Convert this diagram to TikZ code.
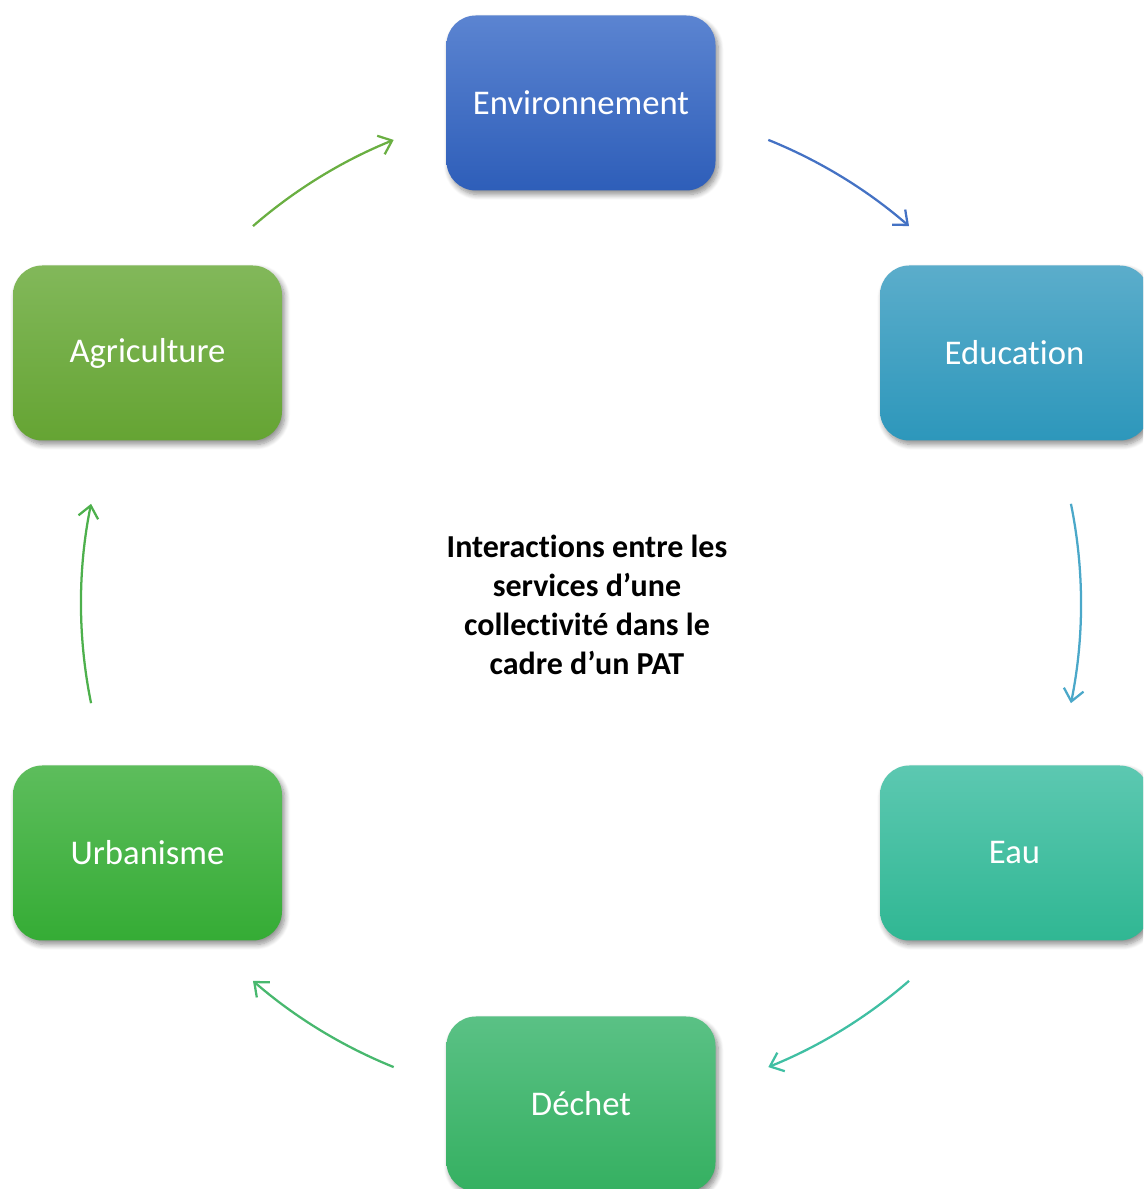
\documentclass[tikz,border=0pt]{standalone}
\usepackage{fontspec}
\setmainfont[Ligatures=NoCommon]{Carlito}
\usetikzlibrary{arrows.meta,calc,shadows.blur}

\definecolor{envTop}{HTML}{5B84D1}\definecolor{envBot}{HTML}{2E5EB9}
\definecolor{eduTop}{HTML}{5BADCB}\definecolor{eduBot}{HTML}{2D97BB}
\definecolor{eauTop}{HTML}{5CC8B1}\definecolor{eauBot}{HTML}{30B793}
\definecolor{decTop}{HTML}{5AC185}\definecolor{decBot}{HTML}{35B061}
\definecolor{urbTop}{HTML}{5DBD5C}\definecolor{urbBot}{HTML}{35AC35}
\definecolor{agrTop}{HTML}{82B85A}\definecolor{agrBot}{HTML}{65A433}
\definecolor{arEnv}{HTML}{4472C4}
\definecolor{arEdu}{HTML}{4BA8C9}
\definecolor{arEau}{HTML}{40BFA3}
\definecolor{arDec}{HTML}{48B86E}
\definecolor{arUrb}{HTML}{4DB04C}
\definecolor{arAgr}{HTML}{6AAF42}

\tikzset{
  service/.style={rectangle, rounded corners=22pt, minimum width=201.75pt,
    minimum height=131.25pt, text=white, font=\fontsize{26}{30}\selectfont,
    blur shadow={shadow xshift=2pt, shadow yshift=-3pt, shadow blur radius=4pt,
      shadow opacity=45, shadow blur steps=8}},
  flow/.style={line width=1.7pt, -{Straight Barb[length=9pt,width=15pt,line width=1.7pt]}}
}

\begin{document}
\begin{tikzpicture}[x=0.75pt,y=0.75pt]
  \useasboundingbox (0,0) rectangle (1143,1189);
  \clip (0,0) rectangle (1143,1189);

  \coordinate (c) at (581,585.5);

  % services placed around the cycle
  \node[service, top color=envTop, bottom color=envBot] (env) at (581,1086) {Environnement};
  \node[service, top color=eduTop, bottom color=eduBot] (edu) at (1014.5,836) {Education};
  \node[service, top color=eauTop, bottom color=eauBot] (eau) at (1014.5,336) {Eau};
  \node[service, top color=decTop, bottom color=decBot] (dec) at (581,85) {Déchet};
  \node[service, top color=urbTop, bottom color=urbBot] (urb) at (147.5,336) {Urbanisme};
  \node[service, top color=agrTop, bottom color=agrBot] (agr) at (147.5,836) {Agriculture};

  \node[align=center, font=\bfseries\fontsize{24}{29.25}\selectfont] (title) at (587,584)
    {Interactions entre les\\services d’une\\collectivité dans le\\cadre d’un PAT};

  % circular arrows between consecutive services
  \coordinate (s1) at ($(c)+(68:500)$);
  \coordinate (s2) at ($(c)+(11.5:500)$);
  \coordinate (s3) at ($(c)+(-49:500)$);
  \coordinate (s4) at ($(c)+(-112:500)$);
  \coordinate (s5) at ($(c)+(-168.5:500)$);
  \coordinate (s6) at ($(c)+(131:500)$);
  \draw[flow, arEnv] (s1) arc[start angle=68, end angle=49, radius=500];
  \draw[flow, arEdu] (s2) arc[start angle=11.5, end angle=-11.5, radius=500];
  \draw[flow, arEau] (s3) arc[start angle=-49, end angle=-68, radius=500];
  \draw[flow, arDec] (s4) arc[start angle=-112, end angle=-131, radius=500];
  \draw[flow, arUrb] (s5) arc[start angle=-168.5, end angle=-191.5, radius=500];
  \draw[flow, arAgr] (s6) arc[start angle=131, end angle=112, radius=500];
\end{tikzpicture}
\end{document}
